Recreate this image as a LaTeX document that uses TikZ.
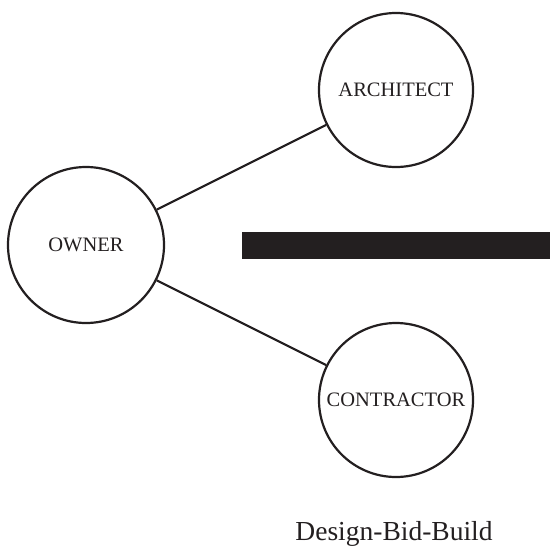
\documentclass[tikz,border=0pt]{standalone}
\usepackage{fontspec}
\setmainfont{Liberation Serif}
\definecolor{ink}{HTML}{231F20}
\begin{document}
\begin{tikzpicture}[x=1pt,y=-1pt,
  party/.style={circle,draw=ink,line width=2.2pt,inner sep=0pt,fill=white,
    font=\fontsize{20.5}{24}\selectfont,text=ink},
  link/.style={draw=ink,line width=2.2pt}]
\useasboundingbox (0,0) rectangle (550,550);
\node[party,minimum size=156pt] (owner) at (86,245) {OWNER};
\node[party,minimum size=154pt] (arch) at (396,90) {ARCHITECT};
\node[party,minimum size=154pt] (cont) at (396,400) {CONTRACTOR};
\draw[link] (owner) -- (arch);
\draw[link] (owner) -- (cont);
\fill[ink] (242,232) rectangle (550,259);
\node[anchor=base,inner sep=0pt,text=ink,font=\fontsize{27.5}{32}\selectfont] (title) at (394,540) {Design-Bid-Build};
\end{tikzpicture}
\end{document}
